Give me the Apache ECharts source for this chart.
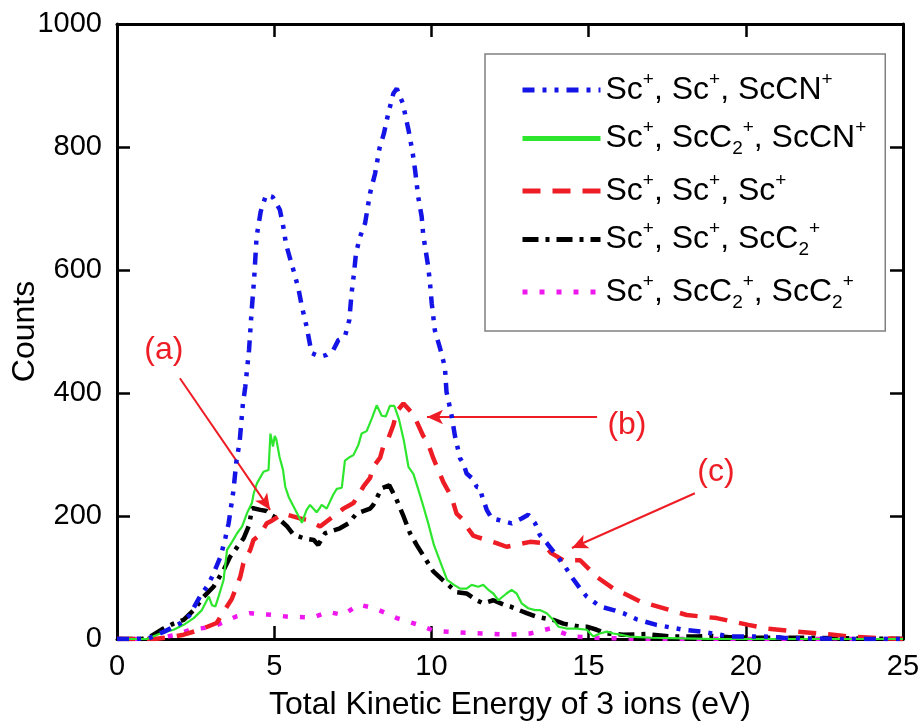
<!DOCTYPE html>
<html>
<head>
<meta charset="utf-8">
<script src="https://cdn.jsdelivr.net/npm/echarts@6/dist/echarts.min.js"></script>
<style>
html,body{margin:0;padding:0;background:#fff;}
#chart{width:923px;height:724px;}
</style>
</head>
<body>
<div id="chart"></div>
<script>
// ---- data (x = total kinetic energy in eV, y = counts) ----
const xTicks = [0, 5, 10, 15, 20, 25];
const yTicks = [0, 200, 400, 600, 800, 1000];

const scScScCN = [
  [0,0],[0.5,0],[1.0,1],[1.5,12],[2.0,25],[2.3,38],[2.65,70],[2.9,88],[3.05,104],[3.3,135],
  [3.45,165],[3.55,188],[3.7,240],[3.8,290],[3.9,320],[4.0,380],[4.08,410],[4.2,470],[4.28,532],
  [4.36,584],[4.44,654],[4.57,695],[4.74,722],[4.95,719],[5.18,698],[5.29,670],[5.38,641],[5.61,600],
  [5.77,570],[5.87,543],[6.03,508],[6.19,465],[6.46,459],[6.67,462],[6.88,470],[7.04,486],[7.25,492],
  [7.39,519],[7.46,562],[7.54,595],[7.6,627],[7.73,654],[7.89,676],[8.05,725],[8.21,757],[8.35,798],
  [8.49,822],[8.63,855],[8.79,887],[8.9,895],[9.09,871],[9.27,828],[9.4,792],[9.48,763],[9.58,719],
  [9.69,687],[9.74,657],[9.9,605],[9.96,576],[10.01,546],[10.11,502],[10.29,470],[10.43,442],[10.48,402],
  [10.64,364],[10.75,330],[10.91,294],[11.02,285],[11.12,269],[11.28,262],[11.45,247],[11.55,246],
  [11.6,234],[11.76,210],[11.92,196],[12.18,193],[12.55,188],[12.87,196],[13.08,202],[13.3,188],
  [13.45,169],[13.67,156],[13.93,139],[14.25,118],[14.46,101],[14.73,82],[14.94,69],[15.36,53],
  [15.79,47],[16.1,42],[16.53,32],[17.16,23],[18.01,15],[18.6,12],[19.18,7],[19.5,4],[20.56,4],
  [21.2,2],[22,1],[23,0],[25,0]
];

const scScC2ScCN = [
  [0,0],[0.95,0],[1.38,9],[1.8,15],[2.12,23],[2.44,34],[2.7,47],[2.92,69],[3.02,55],[3.13,53],
  [3.23,69],[3.39,96],[3.45,123],[3.5,145],[3.66,158],[3.82,172],[3.98,183],[4.13,204],[4.29,221],
  [4.35,237],[4.45,253],[4.66,272],[4.82,275],[4.88,334],[4.96,313],[5.02,330],[5.07,324],[5.17,296],
  [5.28,275],[5.35,248],[5.46,231],[5.62,215],[5.78,199],[5.88,189],[5.93,191],[6.03,210],[6.14,218],
  [6.19,218],[6.35,206],[6.45,213],[6.51,218],[6.67,212],[6.88,235],[6.99,244],[7.15,246],[7.25,290],
  [7.41,296],[7.52,299],[7.68,316],[7.78,334],[7.94,338],[8.1,358],[8.26,380],[8.42,363],[8.55,362],
  [8.68,379],[8.82,379],[8.97,357],[9.13,321],[9.27,280],[9.43,268],[9.56,247],[9.72,220],[9.9,188],
  [10.08,153],[10.3,123],[10.5,96],[10.72,88],[10.91,82],[11.12,82],[11.28,88],[11.49,85],[11.65,88],
  [11.81,80],[11.97,74],[12.13,63],[12.39,74],[12.55,80],[12.71,74],[12.87,58],[13.08,50],[13.3,47],
  [13.45,47],[13.67,42],[13.88,31],[14.04,20],[14.3,17],[14.62,17],[14.94,15],[15.15,4],[15.36,9],
  [15.58,12],[15.79,9],[16.0,7],[16.3,4],[17,2],[18,1],[19,0],[25,0]
];

const scScSc = [
  [0,0],[1.2,0],[1.79,4],[2.12,7],[2.64,15],[3.17,26],[3.4,45],[3.65,65],[3.92,101],[4.02,123],
  [4.24,145],[4.34,161],[4.56,170],[4.76,188],[4.88,191],[5.29,204],[5.35,207],[5.82,196],[6.03,194],
  [6.46,183],[7.2,212],[7.41,218],[7.52,221],[7.84,248],[8.05,262],[8.15,280],[8.37,295],[8.47,313],
  [8.63,326],[8.79,348],[8.9,370],[9.11,383],[9.43,365],[9.74,330],[9.85,324],[10.06,294],[10.38,255],
  [10.64,231],[10.8,204],[11.02,193],[11.12,183],[11.33,168],[11.44,166],[12.07,156],[12.39,150],
  [13.14,158],[13.56,156],[13.8,140],[14.2,128],[14.73,128],[15.26,101],[15.79,82],[16.21,72],
  [16.63,61],[17.59,47],[18.12,39],[19.07,34],[20.08,23],[20.66,17],[21.61,12],[22.78,7],[23.31,4],
  [24.37,1],[25,0]
];

const scScScC2 = [
  [0,0],[0.8,0],[1.06,4],[1.48,17],[1.8,25],[2.12,31],[2.44,47],[2.76,69],[3.07,85],[3.39,112],
  [3.6,134],[3.76,145],[4.03,164],[4.2,185],[4.3,213],[4.56,210],[4.76,208],[4.88,202],[5.18,194],
  [5.41,183],[5.61,170],[5.93,164],[6.26,161],[6.4,153],[6.62,172],[7.09,180],[7.36,188],[7.62,204],
  [8.05,212],[8.15,218],[8.42,245],[8.66,250],[8.88,228],[9.11,200],[9.32,172],[9.53,153],[9.8,131],
  [10.06,110],[10.38,95],[10.8,76],[11.12,74],[11.44,63],[11.65,58],[11.97,63],[12.34,55],[12.5,53],
  [13.03,42],[13.35,36],[13.88,31],[14.2,25],[14.73,20],[14.94,20],[15.26,15],[15.58,9],[16.1,7],
  [16.85,8],[17.59,4],[18.44,4],[18.87,5],[19.5,3],[20.5,2],[22,2],[23.5,1],[25,0]
];

const scScC2ScC2 = [
  [0,0],[0.95,0],[1.5,3],[1.79,6],[2.33,15],[3.06,20],[3.5,30],[3.81,37],[4.23,42],[4.76,40],
  [5.5,36],[6.24,35],[6.72,44],[7.2,39],[7.68,56],[8.2,50],[8.9,34],[9.53,24],[10.1,13],[10.8,11],
  [11.65,9],[12.39,7],[13.14,9],[13.77,17],[14.51,4],[15.2,2],[16,1],[17,0],[25,0]
];

const seriesNames = ['Sc+, Sc+, ScCN+', 'Sc+, ScC2+, ScCN+', 'Sc+, Sc+, Sc+', 'Sc+, Sc+, ScC2+', 'Sc+, ScC2+, ScC2+'];
const legendRichText = [
  '{n|Sc}{sup|+}{n|, Sc}{sup|+}{n|, ScCN}{sup|+}',
  '{n|Sc}{sup|+}{n|, ScC}{sub|2}{sup|+}{n|, ScCN}{sup|+}',
  '{n|Sc}{sup|+}{n|, Sc}{sup|+}{n|, Sc}{sup|+}',
  '{n|Sc}{sup|+}{n|, Sc}{sup|+}{n|, ScC}{sub|2}{sup|+}',
  '{n|Sc}{sup|+}{n|, ScC}{sub|2}{sup|+}{n|, ScC}{sub|2}{sup|+}'
];

// annotations: label text + position, arrow start/end (data units)
const annotLabels = [['(a)', 1.49, 470], ['(b)', 16.22, 348], ['(c)', 19.05, 271]];
const annotArrows = [
  [[2.0, 424], [4.87, 210]],
  [[15.27, 361], [9.86, 361]],
  [[18.38, 237], [14.47, 148]]
];

// ---- chart ----
const FONT = '"Liberation Sans", Arial, sans-serif';
const RED = '#ee1c24';
const chart = echarts.init(document.getElementById('chart'), null, {renderer: 'canvas'});

const xMin = xTicks[0], xMax = xTicks[xTicks.length - 1], xInt = xTicks[1] - xTicks[0];
const yMin = yTicks[0], yMax = yTicks[yTicks.length - 1], yInt = yTicks[1] - yTicks[0];

function axisCommon(showLabel, margin) {
  return {
    axisLine: {show: true, onZero: false, lineStyle: {color: '#000', width: 3}},
    axisTick: {show: true, inside: true, length: 13, lineStyle: {color: '#000', width: 2.5}},
    axisLabel: {show: showLabel, color: '#000', fontSize: 29, fontFamily: FONT, margin: margin,
                formatter: v => String(v)},
    splitLine: {show: false}
  };
}

const styles = [
  {color: '#1414e6', width: 4.5, type: [12, 8, 4, 8, 4, 8]},
  {color: '#2ee62e', width: 2.2, type: 'solid'},
  {color: '#ee1c24', width: 4.5, type: [18, 12]},
  {color: '#000000', width: 4.5, type: [16, 7, 4, 7]},
  {color: '#ee18ee', width: 4.5, type: [5, 12]}
];
const datasets = [scScScCN, scScC2ScCN, scScSc, scScScC2, scScC2ScC2];

const series = datasets.map((d, i) => ({
  name: seriesNames[i],
  type: 'line',
  data: d,
  showSymbol: false,
  symbol: 'none',
  smooth: false,
  animation: false,
  color: styles[i].color,
  lineStyle: {color: styles[i].color, width: styles[i].width, type: styles[i].type, cap: 'butt'},
  z: 5 - i
}));

// annotation series (no legend entry)
series.push({
  name: 'annotations',
  type: 'line',
  data: [],
  silent: true,
  animation: false,
  markLine: {
    silent: true,
    animation: false,
    symbol: ['none', 'arrow'],
    symbolSize: [11, 16],
    label: {show: false},
    lineStyle: {color: RED, width: 2, type: 'solid'},
    data: annotArrows.map(a => [{coord: a[0]}, {coord: a[1]}])
  },
  markPoint: {
    silent: true,
    animation: false,
    symbol: 'circle',
    symbolSize: 1,
    itemStyle: {color: 'rgba(0,0,0,0)'},
    label: {show: true, position: 'inside', color: RED, fontSize: 32, fontFamily: FONT,
            formatter: p => p.name},
    data: annotLabels.map(a => ({name: a[0], coord: [a[1], a[2]]}))
  }
});

const option = {
  backgroundColor: '#ffffff',
  animation: false,
  grid: {left: 117, right: 20, top: 24, bottom: 85, containLabel: false, outerBoundsMode: 'none'},
  xAxis: [
    Object.assign({type: 'value', position: 'bottom', min: xMin, max: xMax, interval: xInt,
      name: 'Total Kinetic Energy of 3 ions (eV)', nameLocation: 'middle', nameGap: 50,
      nameMoveOverlap: false,
      nameTextStyle: {color: '#000', fontSize: 32, fontFamily: FONT}}, axisCommon(true, 13)),
    Object.assign({type: 'value', position: 'top', min: xMin, max: xMax, interval: xInt}, axisCommon(false, 8))
  ],
  yAxis: [
    Object.assign({type: 'value', position: 'left', min: yMin, max: yMax, interval: yInt,
      name: 'Counts', nameLocation: 'middle', nameGap: 76,
      nameMoveOverlap: false,
      nameTextStyle: {color: '#000', fontSize: 32, fontFamily: FONT}}, axisCommon(true, 15)),
    Object.assign({type: 'value', position: 'right', min: yMin, max: yMax, interval: yInt}, axisCommon(false, 8))
  ],
  legend: {
    show: true,
    data: seriesNames,
    orient: 'vertical',
    left: 485,
    top: 54,
    padding: [16, 19, 19, 35],
    itemGap: 12.5,
    itemWidth: 78,
    itemHeight: 14,
    backgroundColor: '#fff',
    borderColor: '#808080',
    borderWidth: 1.5,
    borderRadius: 0,
    selectedMode: false,
    lineStyle: {width: 5},
    itemStyle: {color: 'rgba(0,0,0,0)', borderWidth: 0, opacity: 0},
    formatter: name => legendRichText[seriesNames.indexOf(name)],
    textStyle: {
      color: '#000',
      fontFamily: FONT,
      padding: [0, 0, 0, 0],
      rich: {
        n: {fontSize: 32, fontFamily: FONT, color: '#000', lineHeight: 40},
        sup: {fontSize: 19, fontFamily: FONT, color: '#000', lineHeight: 19, verticalAlign: 'top'},
        sub: {fontSize: 19, fontFamily: FONT, color: '#000', lineHeight: 19, verticalAlign: 'bottom'}
      }
    }
  },
  series: series
};
chart.setOption(option);
</script>
</body>
</html>
